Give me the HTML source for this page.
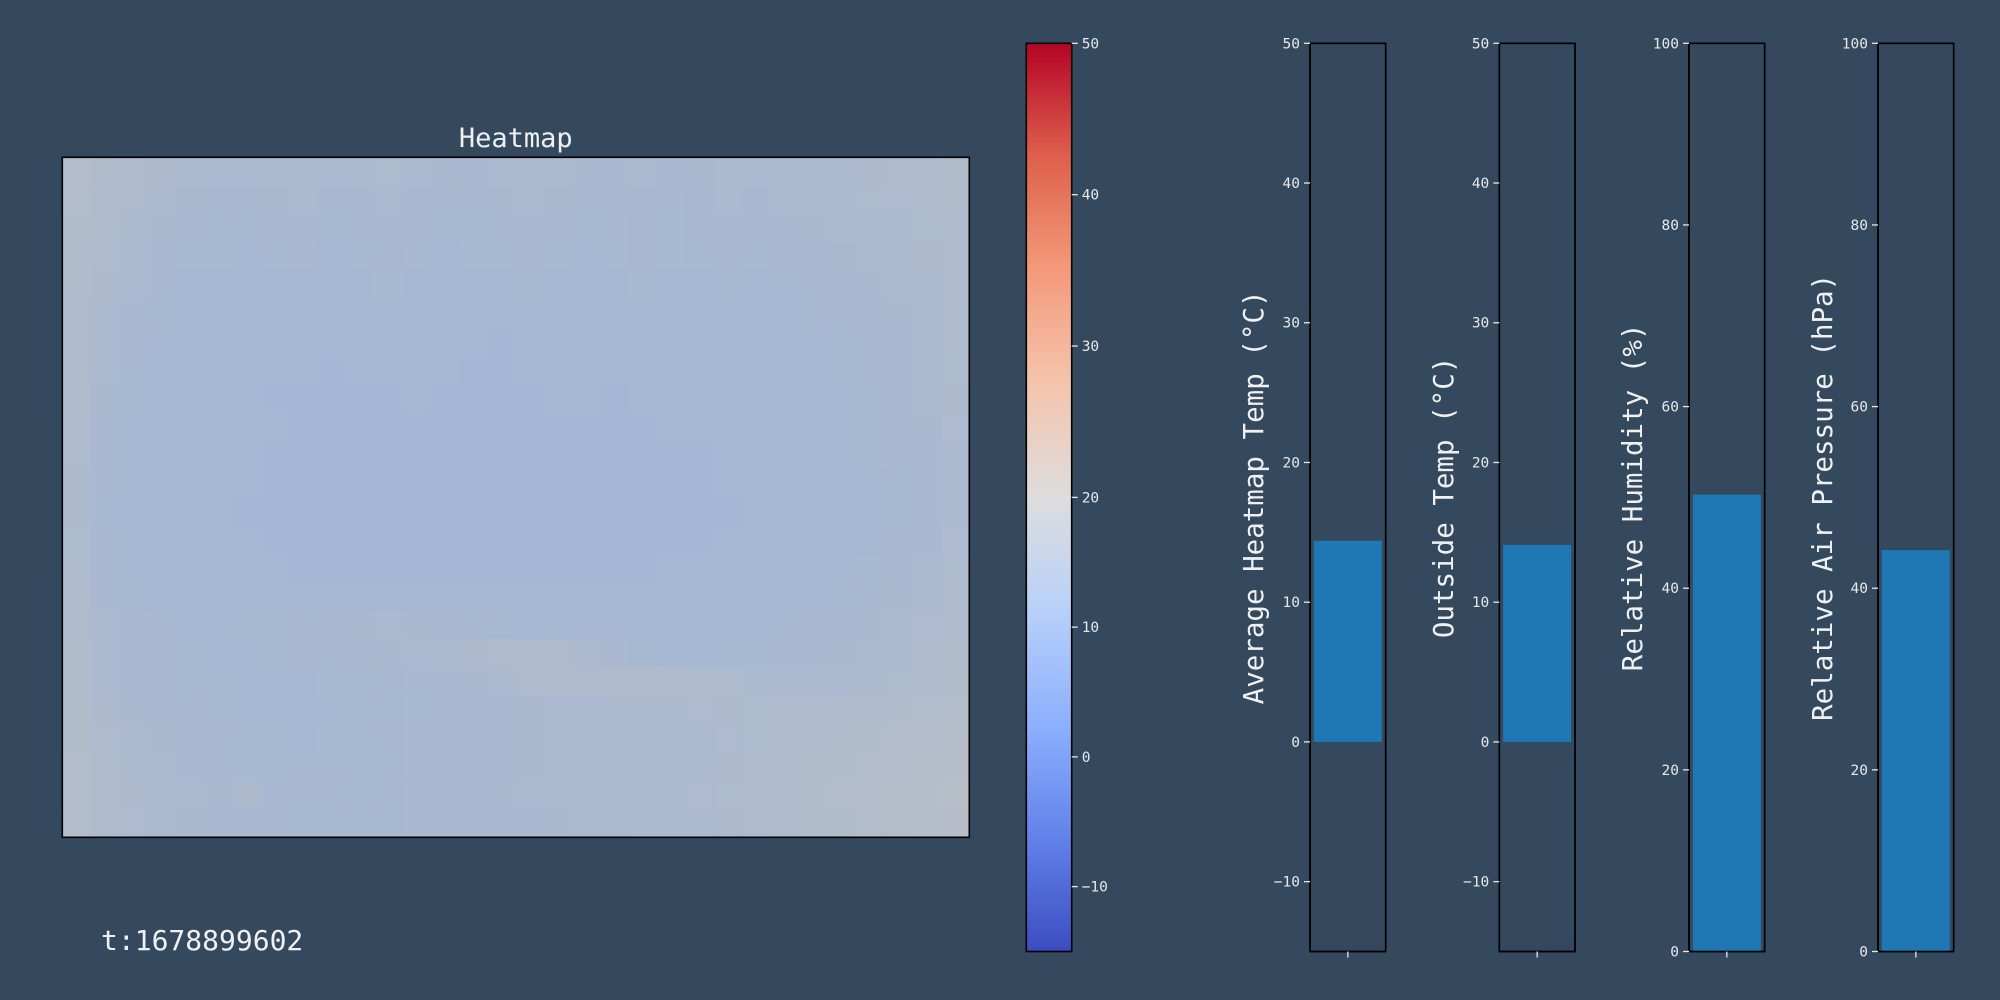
<!DOCTYPE html>
<html><head><meta charset="utf-8">
<style>
html,body{margin:0;padding:0;background:#34495e;}
svg{display:block;font-family:"DejaVu Sans Mono","Liberation Mono",monospace;}
</style></head>
<body>
<svg id="chart" width="2000" height="1000" viewBox="0 0 2000 1000" xmlns="http://www.w3.org/2000/svg">
<rect x="0" y="0" width="2000" height="1000" fill="#34495e"/>
<defs>
<linearGradient id="cwgrad" x1="0" y1="1" x2="0" y2="0"></linearGradient>
</defs>
<g id="heat"></g>
<rect x="62.3" y="157.3" width="907" height="680" fill="none" stroke="#000" stroke-width="1.6"/>
<text x="515.8" y="147" font-size="27" fill="#f0f0f0" text-anchor="middle">Heatmap</text>
<text x="101" y="950" font-size="28" fill="#f0f0f0">t:1678899602</text>
<g id="cbar"></g>
<g id="bars"></g>
</svg>
<script>
const heatRows = [
[17.5,16.8,16.4,15.8,15.4,15.2,15.3,15.6,15.4,15.2,15.5,15.9,15.3,15.0,14.8,15.1,15.3,15.4,15.0,14.9,15.2,14.8,15.0,15.3,15.1,15.4,15.6,15.5,15.8,16.2,16.0,17.0],
[17.2,16.5,16.0,15.6,15.0,14.6,14.7,15.0,15.2,14.6,14.8,15.3,14.9,14.6,14.7,15.0,15.2,15.0,14.5,14.8,14.9,14.6,14.9,15.1,14.8,15.2,15.3,15.6,15.9,15.7,16.1,16.8],
[17.0,16.2,15.6,15.0,14.6,14.4,14.2,14.9,14.5,14.4,14.6,14.8,14.5,14.3,14.4,14.6,14.8,14.6,14.2,14.5,14.6,14.4,14.5,14.7,14.9,14.6,15.0,15.2,15.4,15.6,15.9,16.5],
[16.8,16.0,15.4,14.8,14.3,14.2,14.0,14.3,14.5,14.1,14.3,14.5,14.2,14.0,14.3,14.4,14.5,14.3,14.0,14.4,14.5,14.2,14.3,14.6,14.4,14.5,14.8,15.0,15.3,15.5,15.8,16.4],
[16.7,15.8,15.2,14.5,14.1,14.0,13.9,14.0,14.1,13.9,14.0,14.2,13.9,13.9,14.0,14.1,14.2,14.0,13.9,14.0,14.2,13.9,14.0,14.3,14.1,14.2,14.5,14.8,15.0,15.3,15.6,16.3],
[16.5,15.6,14.8,14.2,13.9,13.8,13.8,13.9,13.8,13.7,13.7,13.6,13.6,13.7,13.6,13.5,13.5,13.6,13.7,13.5,13.7,13.8,13.8,13.9,14.0,14.1,14.3,14.5,14.8,15.0,15.4,16.1],
[16.4,15.4,14.5,14.0,13.8,13.7,13.8,13.7,13.6,13.5,13.5,13.5,13.6,13.6,13.4,13.3,13.5,13.5,13.6,13.5,13.6,13.7,13.7,13.8,13.9,14.0,14.1,14.4,14.6,14.9,15.3,16.0],
[16.3,15.2,14.3,13.9,13.8,13.7,13.6,13.5,13.4,13.3,13.4,13.4,13.5,13.5,13.3,13.3,13.4,13.5,13.5,13.4,13.5,13.6,13.5,13.7,13.8,13.9,14.0,14.2,14.5,14.8,15.2,15.9],
[16.2,15.0,14.2,13.9,13.7,13.6,13.5,13.3,13.3,13.3,13.3,13.3,13.4,13.3,13.2,13.2,13.3,13.4,13.5,13.3,13.4,13.5,13.5,13.6,13.7,13.8,13.9,14.1,14.4,14.7,15.1,15.8],
[16.0,14.8,14.0,13.8,13.7,13.6,13.5,13.4,13.3,13.2,13.3,13.2,13.3,13.2,13.2,13.2,13.3,13.3,13.3,13.3,13.3,13.4,13.4,13.5,13.7,13.8,13.9,14.0,14.3,14.6,15.0,15.7],
[16.0,14.6,13.9,13.8,13.7,13.5,13.4,13.3,13.2,13.2,13.2,13.2,13.2,13.2,13.1,13.1,13.2,13.3,13.3,13.2,13.3,13.3,13.3,13.5,13.6,13.7,13.8,13.9,14.2,14.5,14.9,15.6],
[15.8,14.5,13.9,13.7,13.6,13.5,13.4,13.3,13.2,13.1,13.2,13.1,13.2,13.1,13.1,13.1,13.2,13.2,13.2,13.2,13.2,13.3,13.3,13.4,13.6,13.7,13.8,13.9,14.1,14.4,14.8,15.6],
[15.8,14.4,13.8,13.7,13.6,13.5,13.3,13.2,13.2,13.1,13.1,13.1,13.1,13.1,13.1,13.1,13.1,13.2,13.2,13.1,13.2,13.2,13.2,13.3,13.5,13.6,13.7,13.8,14.0,14.4,14.8,15.6],
[15.9,14.5,13.9,13.8,13.6,13.5,13.4,13.3,13.2,13.2,13.2,13.1,13.2,13.2,13.1,13.1,13.2,13.2,13.2,13.2,13.2,13.3,13.3,13.4,13.6,13.7,13.8,13.9,14.1,14.5,14.9,15.7],
[16.0,14.7,14.0,13.9,13.7,13.6,13.5,13.4,13.3,13.3,13.3,13.2,13.3,13.3,13.2,13.2,13.3,13.3,13.3,13.3,13.3,13.4,13.4,13.5,13.7,13.8,13.9,14.0,14.3,14.7,15.1,15.9],
[16.2,14.9,14.2,14.0,13.9,13.8,13.7,13.6,13.5,13.5,13.5,13.4,13.5,13.5,13.4,13.4,13.5,13.5,13.5,13.5,13.5,13.6,13.6,13.7,13.8,13.9,14.1,14.3,14.6,15.0,15.4,16.2],
[16.4,15.2,14.5,14.3,14.1,14.0,14.2,14.3,14.6,14.8,15.0,15.1,15.0,14.8,14.5,14.3,14.0,13.9,13.8,13.8,13.8,13.8,13.9,13.9,14.1,14.3,14.5,14.7,15.0,15.3,15.7,16.5],
[16.6,15.4,14.7,14.5,14.2,13.9,14.0,14.2,14.5,14.7,14.9,15.0,15.2,15.4,15.8,16.0,16.1,16.0,15.5,14.8,14.2,14.0,14.0,14.2,14.4,14.6,14.8,15.0,15.3,15.6,16.0,16.8],
[16.8,15.6,14.9,14.6,14.4,14.2,13.9,13.8,14.0,14.2,14.4,14.5,14.6,14.8,15.0,15.4,16.0,16.3,16.4,16.5,16.5,16.3,16.2,16.0,15.6,15.4,15.2,15.3,15.6,15.9,16.3,17.0],
[17.0,15.8,15.0,14.8,14.5,14.3,14.1,13.9,13.8,14.0,14.2,14.3,14.4,14.6,14.8,14.9,15.0,15.1,15.3,15.4,15.5,15.6,15.7,15.8,15.9,16.0,16.1,16.2,16.4,16.6,16.9,17.4],
[17.1,16.0,15.2,15.0,14.7,14.5,14.3,14.2,14.1,14.3,14.4,14.5,14.6,14.7,14.8,14.9,15.0,15.1,15.2,15.3,15.4,15.5,15.6,15.7,15.9,16.1,16.4,16.7,17.0,17.2,17.5,17.8],
[17.2,16.2,15.4,15.1,14.8,14.6,14.4,14.3,14.2,14.3,14.2,14.4,14.6,14.7,14.8,14.9,15.0,15.1,15.2,15.3,15.4,15.5,15.6,15.8,16.0,16.3,16.6,17.0,17.3,17.5,17.8,18.2],
[17.4,16.5,15.8,15.4,15.2,15.0,15.8,14.8,14.6,14.5,14.4,14.5,14.7,14.8,14.9,15.0,15.1,15.2,15.3,15.4,15.5,15.6,15.7,15.9,16.1,16.4,16.8,17.2,17.5,17.8,18.1,18.5],
[17.3,16.4,15.7,15.3,15.0,14.8,14.6,14.5,14.4,14.3,14.2,14.3,14.5,14.6,14.7,14.8,14.9,15.0,15.1,15.2,15.4,15.5,15.6,15.8,16.0,16.3,16.7,17.1,17.4,17.7,18.0,18.4]
];
const cbarTicks = [50,40,30,20,10,0,-10];
const panelLabels = ["Average Heatmap Temp (°C)","Outside Temp (°C)","Relative Humidity (%)","Relative Air Pressure (hPa)"];
const panelValues = [14.4, 14.1, 50.3, 44.2];
const panelMins = [-15, -15, 0, 0];
const panelMaxs = [50, 50, 100, 100];
const panelTicks = [[-10,0,10,20,30,40,50],[-10,0,10,20,30,40,50],[0,20,40,60,80,100],[0,20,40,60,80,100]];

const NS="http://www.w3.org/2000/svg";
function mk(tag, parent, attrs){const e=document.createElementNS(NS,tag);for(const k in attrs)e.setAttribute(k,attrs[k]);parent.appendChild(e);return e;}
const cw=[[0,59,76,192],[0.125,98,130,234],[0.25,141,176,254],[0.375,184,208,249],[0.5,221,221,221],[0.625,245,196,173],[0.75,244,154,123],[0.875,222,96,77],[1,180,4,38]];
function coolwarm(t){t=Math.max(0,Math.min(1,t));for(let i=1;i<cw.length;i++){if(t<=cw[i][0]){const a=cw[i-1],b=cw[i];const f=(t-a[0])/(b[0]-a[0]);return [0,1,2].map(j=>a[j+1]+(b[j+1]-a[j+1])*f);}}return cw[cw.length-1].slice(1);}
const VMIN=-15,VC=20,VMAX=50;
function norm(v){return v<VC?0.5*(v-VMIN)/(VC-VMIN):0.5+0.5*(v-VC)/(VMAX-VC);}
const bg=[52,73,94], ALPHA=0.8;
function rgb(c){return "rgb("+c.map(x=>Math.round(x)).join(",")+")";}

const HX=62.3,HY=157.3,HW=907,HH=680;
const heat=document.getElementById('heat');
const nr=heatRows.length,nc=heatRows[0].length;
const cwid=HW/nc,chei=HH/nr;
heatRows.forEach((row,r)=>row.forEach((v,c)=>{
  const col=coolwarm(norm(v)).map((x,j)=>x*ALPHA+bg[j]*(1-ALPHA));
  const el=mk('rect',heat,{x:(HX+c*cwid).toFixed(2),y:(HY+r*chei).toFixed(2),width:(cwid+0.6).toFixed(2),height:(chei+0.6).toFixed(2),fill:rgb(col)});
  
  
}));

const CX=1026.3,CW=45.4,CT=43.3,CB=951.5;
function cy(v){return CB-(CB-CT)*norm(v);}
const cbar=document.getElementById('cbar');
const grad=document.getElementById('cwgrad');
for(let i=0;i<=40;i++){const t=i/40;mk('stop',grad,{offset:t,'stop-color':rgb(coolwarm(t))});}
const cb=mk('rect',cbar,{x:CX,y:CT,width:CW,height:CB-CT,fill:'url(#cwgrad)',stroke:'#000','stroke-width':1.6});


cbarTicks.forEach(v=>{
  const y=cy(v);
  const t=mk('line',cbar,{x1:CX+CW,x2:CX+CW+6,y1:y,y2:y,stroke:'#e8e8e8','stroke-width':1.3});
  
  
  const l=mk('text',cbar,{x:CX+CW+10,y:y+5,'font-size':14.5,fill:'#e8e8e8'});
  l.textContent=(v<0?'\u2212':'')+Math.abs(v);
  
  
});

const PL=[1310,1499.3,1689,1878], PW=75.7, PT=43.3, PB=951.5;
const labelX=[1254,1444,1633,1823];
const bars=document.getElementById('bars');
panelValues.forEach((val,i)=>{
  const mn=panelMins[i],mx=panelMaxs[i];
  const y=v=>PB-(PB-PT)*(v-mn)/(mx-mn);
  const g=mk('g',bars,{});
  
  
  const fr=mk('rect',g,{x:PL[i],y:PT,width:PW,height:PB-PT,fill:'#34495e',stroke:'#000','stroke-width':1.6});
  
  
  const y0=y(Math.max(0,mn)),yv=y(val);
  const b=mk('rect',g,{x:PL[i]+3.8,y:Math.min(y0,yv),width:PW-7.6,height:Math.abs(y0-yv),fill:'#1f77b4'});
  
  
  mk('rect',g,{x:PL[i],y:PT,width:PW,height:PB-PT,fill:'none',stroke:'#000','stroke-width':1.6});
  panelTicks[i].forEach(v=>{
    const ty=y(v);
    const t=mk('line',g,{x1:PL[i]-6,x2:PL[i],y1:ty,y2:ty,stroke:'#e8e8e8','stroke-width':1.3});
    
    
    const l=mk('text',g,{x:PL[i]-10,y:ty+5,'font-size':14.5,fill:'#e8e8e8','text-anchor':'end'});
    l.textContent=(v<0?'\u2212':'')+Math.abs(v);
    
    
  });
  const xt=mk('line',g,{x1:PL[i]+PW/2,x2:PL[i]+PW/2,y1:PB,y2:PB+6,stroke:'#e8e8e8','stroke-width':1.3});
  
  
  const cyy=(PT+PB)/2;
  const lab=mk('text',g,{x:labelX[i],y:cyy,'font-size':27.5,fill:'#f0f0f0','text-anchor':'middle','dominant-baseline':'central',transform:'rotate(-90 '+labelX[i]+' '+cyy+')'});
  lab.textContent=panelLabels[i];
  
  
});
</script>
</body></html>
